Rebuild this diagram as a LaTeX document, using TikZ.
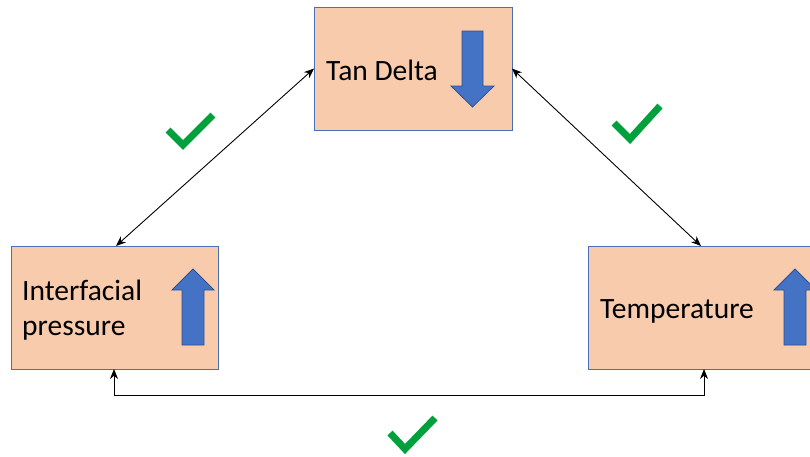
\documentclass[tikz,border=0pt]{standalone}
\usepackage{fontspec}
\setmainfont{Carlito}
\usetikzlibrary{arrows.meta}
\definecolor{peach}{HTML}{F8CBAD}
\definecolor{boxline}{HTML}{4A6FB5}
\definecolor{arrowfill}{HTML}{4472C4}
\definecolor{arrowline}{HTML}{2F528F}
\definecolor{tickgreen}{HTML}{00A03C}
\begin{document}
\begin{tikzpicture}[x=1pt,y=-1pt,
  factor/.style={draw=boxline,line width=1pt,fill=peach,inner sep=0pt,outer sep=0pt},
  label/.style={font=\fontsize{29.5}{35}\selectfont,anchor=base west,align=left,inner sep=0pt},
  link/.style={draw=black,line width=0.9pt,{Stealth[length=10pt,width=8pt]}-{Stealth[length=10pt,width=8pt]}},
  trend/.style={fill=arrowfill,draw=arrowline,line width=0.8pt},
  tick/.style={draw=tickgreen,line width=7pt,miter limit=10}]
\useasboundingbox (0,0) rectangle (810,456);

% the three factor boxes
\node[factor,minimum width=198pt,minimum height=123pt] (tan) at (413,68.5) {};
\node[factor,minimum width=207pt,minimum height=123pt] (inter) at (114.5,307.5) {};
\node[factor,minimum width=232pt,minimum height=123pt] (temp) at (704,307.5) {};

% box labels
\node[label] (tanlbl) at (326,80) {Tan Delta};
\node[label] (interlbl) at (22,300) {Interfacial};
\node[label] (interlbl2) at (22,335) {pressure};
\node[label] (templbl) at (600,318) {Temperature};

% trend arrows
\draw[trend] (462,31) -- (483,31) -- (483,86) -- (494,86) -- (472.5,107)
  -- (451,86) -- (462,86) -- cycle;
\draw[trend] (182,345) -- (204,345) -- (204,290) -- (214,290) -- (193,269)
  -- (172,290) -- (182,290) -- cycle;
\draw[trend] (784,345) -- (806,345) -- (806,290) -- (816,290) -- (795,269)
  -- (774,290) -- (784,290) -- cycle;

% relationships
\draw[link] (tan.west) -- (inter.north -| 116,0);
\draw[link] (tan.east) -- (temp.north -| 701,0);
\coordinate (bl) at (114,395);
\coordinate (br) at (704,395);
\draw[link] (inter.south -| bl) -- (bl) -- (br) -- (temp.south -| br);

% confirmation ticks
\draw[tick] (168,130) -- (183,145) -- (213,115);
\draw[tick] (614,123) -- (630,139) -- (660,106);
\draw[tick] (390,433) -- (405,449) -- (435,418);
\end{tikzpicture}
\end{document}
